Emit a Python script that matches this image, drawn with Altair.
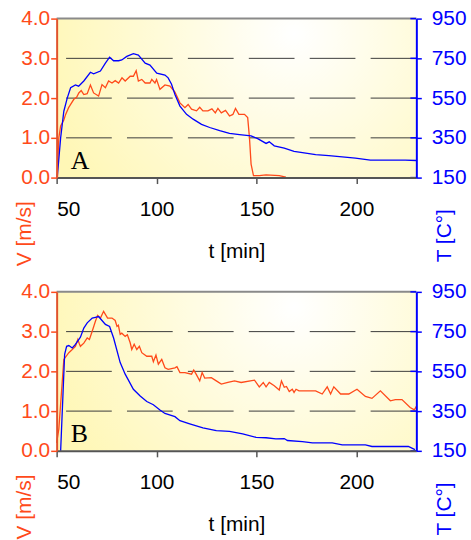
import altair as alt
import pandas as pd

RED = "#FF4A1A"
BLUE = "#0000FF"
W, H = 362, 160
FONT = "Liberation Sans"

# ---- Panel A: air velocity V [m/s] and temperature T [C°] over time ----
a_v_t = [50.2, 51.1, 52.0, 53.6, 54.5, 56.0, 57.0, 58.6, 60.0, 61.1, 62.3, 63.6, 65.3,
         66.9, 68.5, 71.0, 72.7, 74.4, 76.0, 77.7, 79.3, 81.0, 82.7, 84.3, 86.8, 88.4,
         89.8, 90.9, 92.6, 94.3, 96.7, 97.6, 99.2, 100.0, 101.7, 104.2, 106.7, 109.2,
         111.7, 114.2, 115.8, 117.5, 120.0, 121.6, 123.2, 125.7, 127.7, 129.4, 130.7,
         132.4, 134.5, 136.5, 138.2, 139.5, 141.2, 144.0, 145.6, 146.5, 147.3, 148.5,
         151.4, 154.8, 161.4, 164.7]
a_v = [0.0, 1.0, 1.3, 1.45, 1.59, 1.76, 1.84, 1.97, 2.02, 2.13, 2.19, 2.09, 2.11,
       2.33, 2.13, 2.05, 2.34, 2.26, 2.43, 2.38, 2.44, 2.38, 2.51, 2.43, 2.55, 2.55,
       2.69, 2.43, 2.47, 2.38, 2.38, 2.47, 2.38, 2.47, 2.22, 2.33, 2.30, 2.15,
       1.88, 1.76, 1.84, 1.72, 1.68, 1.77, 1.68, 1.68, 1.73, 1.63, 1.74,
       1.63, 1.69, 1.55, 1.59, 1.74, 1.59, 1.59, 1.51, 1.0, 0.34, 0.05,
       0.05, 0.07, 0.05, 0.01]
a_T_t = [50.3, 52.0, 53.6, 55.3, 57.0, 59.4, 61.0, 63.6, 66.9, 68.5, 71.9, 74.4, 76.5,
         78.5, 81.0, 82.6, 85.1, 88.4, 90.9, 94.3, 96.7, 100.1, 104.2, 105.8, 107.5,
         109.2, 111.7, 115.0, 118.3, 122.5, 126.6, 131.6, 136.5, 141.5, 147.3, 150.6,
         154.8, 156.4, 158.9, 163.9, 168.8, 173.0, 179.6, 186.2, 192.9, 199.5, 207.0,
         216.0, 224.4, 230.0]
a_T = [150, 350, 484, 550, 602, 616, 610, 636, 680, 672, 686, 726, 756,
       738, 738, 742, 760, 774, 766, 726, 716, 676, 666, 652, 620,
       568, 510, 468, 444, 418, 402, 386, 372, 366, 360, 346,
       322, 330, 310, 298, 282, 276, 266, 260, 254, 248, 238,
       238, 238, 236]

# ---- Panel B ----
b_v_t = [50.0, 51.1, 53.6, 56.1, 57.8, 59.4, 60.6, 61.3, 61.9, 63.6, 65.3, 66.4, 67.8,
         69.4, 70.5, 71.9, 73.5, 75.5, 77.7, 79.3, 80.2, 80.9, 81.8, 82.6, 84.3, 85.4,
         86.8, 87.6, 88.8, 90.1, 91.4, 92.6, 95.1, 97.6, 98.4, 99.7, 100.9, 102.6,
         104.2, 105.8, 109.2, 110.2, 111.7, 114.2, 117.5, 118.6, 119.8, 121.6, 122.8,
         124.1, 127.4, 129.9, 132.4, 135.7, 139.0, 142.3, 149.0, 151.4, 153.4, 154.8,
         156.4, 158.9, 161.4, 162.5, 163.9, 165.0, 166.4, 167.9, 168.8, 169.8, 171.3,
         179.6, 182.9, 185.4, 187.1, 188.7, 192.1, 196.2, 200.3, 204.5, 207.8, 212.0,
         217.0, 219.5, 222.8, 226.9, 229.0, 230.0]
b_v = [0.2, 0.55, 2.30, 2.47, 2.55, 2.63, 2.80, 2.70, 2.63, 2.71, 2.84, 2.80, 3.01,
       3.26, 3.41, 3.34, 3.51, 3.34, 3.34, 3.28, 3.13, 3.16, 2.93, 2.96, 2.88, 2.92,
       2.72, 2.55, 2.68, 2.55, 2.63, 2.47, 2.38, 2.38, 2.24, 2.41, 2.18, 2.30,
       2.09, 2.05, 2.09, 2.12, 1.97, 1.97, 1.93, 2.03, 1.93, 1.76, 1.97,
       1.83, 1.84, 1.76, 1.68, 1.72, 1.76, 1.72, 1.78, 1.61, 1.72, 1.61,
       1.72, 1.64, 1.53, 1.76, 1.60, 1.62, 1.49, 1.55, 1.47, 1.55, 1.51,
       1.51, 1.43, 1.61, 1.43, 1.61, 1.43, 1.43, 1.55, 1.37, 1.32, 1.51,
       1.26, 1.29, 1.29, 1.09, 1.03, 1.12]
b_T_t = [52.0, 54.0, 55.0, 56.1, 57.8, 59.4, 61.9, 63.6, 65.3, 67.8, 69.4, 71.0, 72.7,
         74.4, 76.5, 78.5, 81.8, 84.3, 88.4, 91.8, 95.1, 98.4, 101.7, 104.2, 109.2,
         111.7, 116.6, 123.2, 129.9, 136.5, 143.1, 149.8, 154.8, 159.7, 163.9, 165.5,
         173.0, 178.0, 187.9, 192.9, 204.5, 207.8, 226.0, 229.3]
b_T = [150, 636, 676, 680, 668, 686, 722, 768, 794, 818, 822, 826, 806,
       786, 776, 718, 594, 536, 460, 426, 398, 382, 356, 338, 322,
       302, 286, 266, 252, 248, 236, 218, 216, 210, 212, 202,
       196, 190, 190, 180, 180, 172, 172, 156]

v_ticks = [0, 1, 2, 3, 4]
T_ticks = [150, 350, 550, 750, 950]
t_ticks = [50, 100, 150, 200]
grid_levels = [1, 2, 3]

x_scale = alt.Scale(domain=[50, 230], nice=False, zero=False)
v_scale = alt.Scale(domain=[0, 4], nice=False, zero=False)
T_scale = alt.Scale(domain=[150, 950], nice=False, zero=False)

# shared bottom axis, repeated on every layer that encodes t so it merges into one
x_axis = alt.Axis(
    values=t_ticks, title="t [min]", labelColor="black",
    tickColor="#555555", domainColor="#555555", domainWidth=2,
    tickWidth=1.5, tickSize=6, labelPadding=15, grid=False,
    titleY=80, titleBaseline="alphabetic", titleColor="black", zindex=2,
)

bg_fill = {
    "gradient": "radial",
    "x1": 0.66, "y1": 0.32, "r1": 0.0,
    "x2": 0.66, "y2": 0.32, "r2": 0.72,
    "stops": [
        {"offset": 0.0, "color": "#FFFFFF"},
        {"offset": 1.0, "color": "#FFF7B6"},
    ],
}


def panel(vt, vv, tt, tv, letter):
    dv = pd.DataFrame({"t": vt, "V": vv})
    dT = pd.DataFrame({"t": tt, "T": tv})
    one = pd.DataFrame({"k": [0]})

    bg = alt.Chart(one).mark_rect(fill=bg_fill, strokeWidth=0).encode(
        x=alt.value(0), x2=alt.value(W), y=alt.value(0), y2=alt.value(H)
    )

    grid = alt.Chart(pd.DataFrame({"g": grid_levels})).mark_rule(
        color="#3a3a3a", strokeWidth=1, strokeDash=[46, 15.3]
    ).encode(y=alt.Y("g:Q", scale=v_scale, axis=None))

    top = alt.Chart(one).mark_rule(color="#8a8a8a", strokeWidth=2).encode(
        y=alt.datum(4, scale=v_scale, axis=None)
    )

    red = alt.Chart(dv).mark_line(color=RED, strokeWidth=1.3).encode(
        x=alt.X("t:Q", scale=x_scale, axis=x_axis),
        y=alt.Y(
            "V:Q", scale=v_scale,
            axis=alt.Axis(
                orient="left", values=v_ticks, format=".1f", labelColor=RED,
                tickColor=RED, domainColor="#E0522D", domainWidth=2, tickWidth=1.5,
                tickSize=6, labelPadding=1, grid=False, title="V [m/s]",
                titleColor=RED, titleAngle=270, titleAlign="center",
                titleBaseline="alphabetic", titleX=-26, titleY=216, zindex=2,
            ),
        ),
        order="t:Q",
    )

    inner_ticks = alt.Chart(pd.DataFrame({"g": v_ticks})).mark_rule(
        color=BLUE, strokeWidth=1.5
    ).encode(
        y=alt.Y("g:Q", scale=v_scale, axis=None),
        x=alt.value(W - 6), x2=alt.value(W),
    )

    tag = alt.Chart(pd.DataFrame({"t": [57], "V": [0.22], "s": [letter]})).mark_text(
        font="Liberation Serif", fontSize=26, align="left", baseline="alphabetic",
        color="black",
    ).encode(
        x=alt.X("t:Q", scale=x_scale, axis=x_axis),
        y=alt.Y("V:Q", scale=v_scale, axis=None),
        text="s:N",
    )

    blue = alt.Chart(dT).mark_line(color=BLUE, strokeWidth=1.3).encode(
        x=alt.X("t:Q", scale=x_scale, axis=x_axis),
        y=alt.Y(
            "T:Q", scale=T_scale,
            axis=alt.Axis(
                orient="right", values=T_ticks, labelColor=BLUE, tickColor=BLUE,
                domainColor=BLUE, domainWidth=2, tickWidth=1.5, tickSize=5,
                labelPadding=10, grid=False, title="T [C°]", titleColor=BLUE,
                titleAngle=270, titleAlign="center", titleBaseline="alphabetic",
                titleX=34, titleY=218, zindex=2,
            ),
        ),
        order="t:Q",
    )

    return alt.layer(bg, grid, top, red, inner_ticks, tag, blue).resolve_scale(
        y="independent"
    ).properties(width=W, height=H)


chart = alt.vconcat(
    panel(a_v_t, a_v, a_T_t, a_T, "A"),
    panel(b_v_t, b_v, b_T_t, b_T, "B"),
    spacing=15,
).properties(
    padding={"left": 14, "top": 6, "right": 4, "bottom": 0},
    background="white",
).configure_view(
    stroke=None
).configure_axis(
    labelFont=FONT, titleFont=FONT, labelFontSize=21, titleFontSize=21,
    titleFontWeight="normal",
)

chart.save("out.html", embed_options={"renderer": "svg", "actions": False})
